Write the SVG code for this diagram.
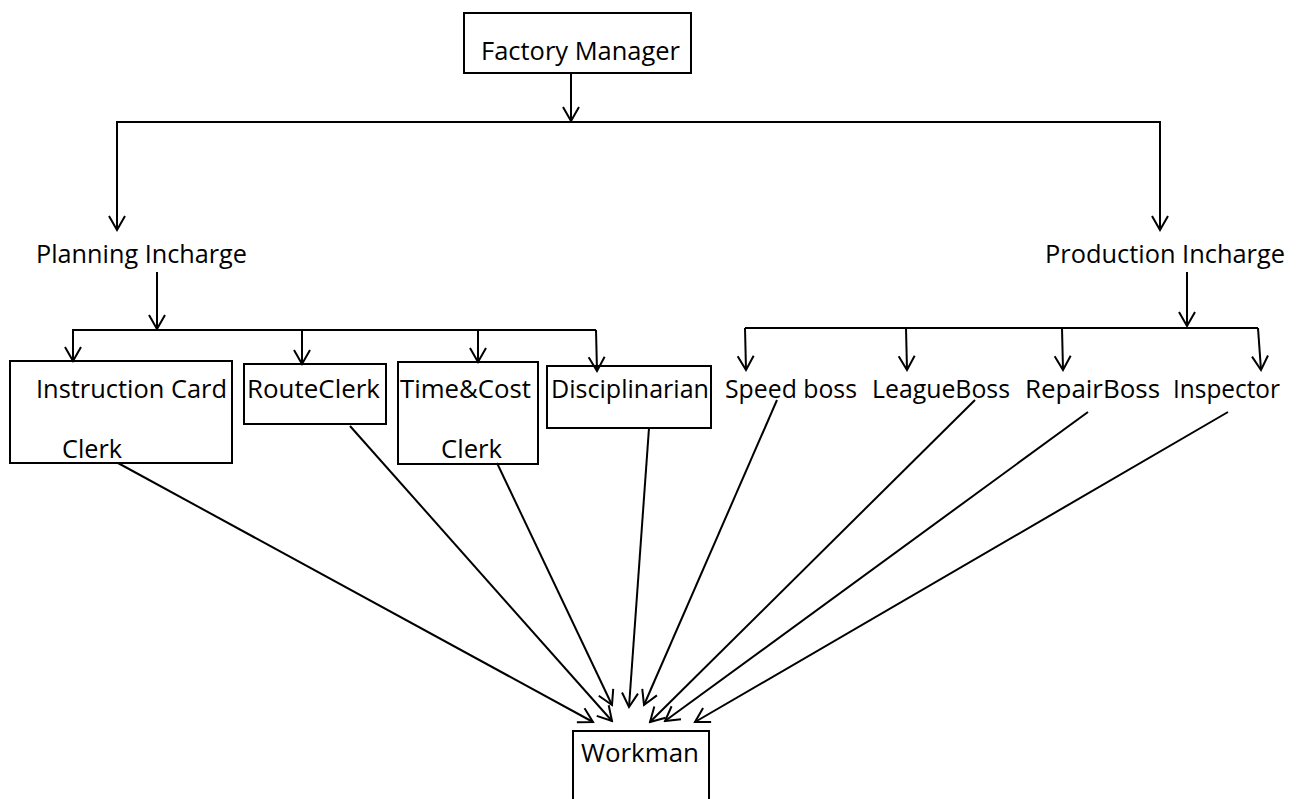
<svg xmlns="http://www.w3.org/2000/svg" width="1297" height="799" viewBox="0 0 1297 799">
<defs>
<marker id="ah" viewBox="-16 -10 18 20" refX="0" refY="0" markerWidth="18" markerHeight="20" markerUnits="userSpaceOnUse" orient="auto">
<path d="M-14,-8 L0,0 L-14,8" fill="none" stroke="#000" stroke-width="2"/>
</marker>
<style>
.b{fill:#fff;stroke:#000;stroke-width:2}
.t{font-family:"Open Sans","Liberation Sans",sans-serif;font-size:26px;fill:#000}
.c line,.c polyline{stroke:#000;stroke-width:2;fill:none}
.a{marker-end:url(#ah)}
</style>
</defs>
<rect width="1297" height="799" fill="#fff"/>
<g id="factory-manager"><rect class="b" x="464" y="13" width="227" height="60"/><text class="t" x="481" y="60" textLength="199" lengthAdjust="spacingAndGlyphs">Factory Manager</text></g>
<g id="planning-incharge"><text class="t" x="36" y="263" textLength="211" lengthAdjust="spacingAndGlyphs">Planning Incharge</text></g>
<g id="production-incharge"><text class="t" x="1045" y="263" textLength="240" lengthAdjust="spacingAndGlyphs">Production Incharge</text></g>
<g id="instruction-card-clerk"><rect class="b" x="10" y="361" width="222" height="102"/><text class="t" x="36" y="398" textLength="191" lengthAdjust="spacingAndGlyphs">Instruction Card</text><text class="t" x="62" y="458" textLength="60" lengthAdjust="spacingAndGlyphs">Clerk</text></g>
<g id="route-clerk"><rect class="b" x="244" y="364" width="142" height="60"/><text class="t" x="247" y="398" textLength="133" lengthAdjust="spacingAndGlyphs">RouteClerk</text></g>
<g id="time-cost-clerk"><rect class="b" x="398" y="362" width="140" height="102"/><text class="t" x="400" y="398" textLength="131" lengthAdjust="spacingAndGlyphs">Time&amp;Cost</text><text class="t" x="441" y="458" textLength="61" lengthAdjust="spacingAndGlyphs">Clerk</text></g>
<g id="disciplinarian"><rect class="b" x="547" y="366" width="164" height="62"/><text class="t" x="551" y="398" textLength="158" lengthAdjust="spacingAndGlyphs">Disciplinarian</text></g>
<g id="speed-boss"><text class="t" x="725" y="398" textLength="132" lengthAdjust="spacingAndGlyphs">Speed boss</text></g>
<g id="league-boss"><text class="t" x="872" y="398" textLength="138" lengthAdjust="spacingAndGlyphs">LeagueBoss</text></g>
<g id="repair-boss"><text class="t" x="1025" y="398" textLength="135" lengthAdjust="spacingAndGlyphs">RepairBoss</text></g>
<g id="inspector"><text class="t" x="1173" y="398" textLength="107" lengthAdjust="spacingAndGlyphs">Inspector</text></g>
<g id="workman"><rect class="b" x="573" y="731" width="136" height="80"/><text class="t" x="581" y="762" textLength="118" lengthAdjust="spacingAndGlyphs">Workman</text></g>
<g class="c" id="connectors">
<line class="a" x1="571" y1="73" x2="571" y2="121"/>
<polyline points="117,230 117,122 1160,122 1160,230"/>
<line class="a" x1="117" y1="122" x2="117" y2="230"/>
<line class="a" x1="1160" y1="122" x2="1160" y2="230"/>
<line class="a" x1="157" y1="272" x2="157" y2="329"/>
<polyline points="73,362 73,330 596,330"/>
<line class="a" x1="73" y1="330" x2="73" y2="361"/>
<line class="a" x1="302" y1="330" x2="302" y2="364"/>
<line class="a" x1="478" y1="330" x2="478" y2="362"/>
<line class="a" x1="596" y1="330" x2="597" y2="371"/>
<line class="a" x1="1187" y1="272" x2="1187" y2="326"/>
<line x1="745" y1="328" x2="1258" y2="328"/>
<line class="a" x1="745" y1="328" x2="746" y2="370"/>
<line class="a" x1="906" y1="328" x2="907" y2="370"/>
<line class="a" x1="1062" y1="328" x2="1063" y2="370"/>
<line class="a" x1="1258" y1="328" x2="1261" y2="370"/>
<line class="a" x1="118" y1="463" x2="593" y2="722"/>
<line class="a" x1="350" y1="426" x2="612" y2="721"/>
<line class="a" x1="497" y1="463" x2="612" y2="705"/>
<line class="a" x1="649" y1="428" x2="629" y2="707"/>
<line class="a" x1="777" y1="400" x2="644" y2="705"/>
<line class="a" x1="975" y1="400" x2="650" y2="722"/>
<line class="a" x1="1088" y1="412" x2="665" y2="721"/>
<line class="a" x1="1228" y1="412" x2="695" y2="722"/>
</g>
</svg>
